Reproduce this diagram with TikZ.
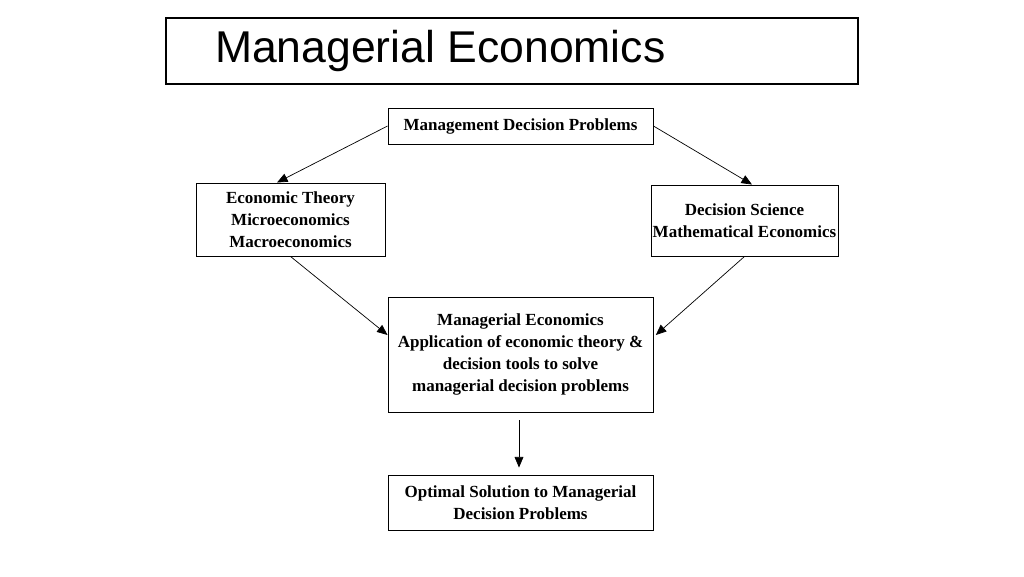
\documentclass[tikz,border=0pt]{standalone}
\usepackage{fontspec}
\setmainfont{Liberation Serif}
\newfontfamily\titlefont{Liberation Sans}
\usetikzlibrary{positioning,arrows.meta}

\tikzset{
    box/.style={draw, line width=0.8pt, align=center, inner sep=0pt,
        font=\fontsize{14.5}{18.8}\selectfont\bfseries},
    link/.style={-{Triangle[length=9pt,width=7.5pt]}, line width=0.6pt}
}

\begin{document}
\begin{tikzpicture}[x=0.03cm,y=-0.03cm]
            % Canvas
            \useasboundingbox (0,0) rectangle (1024,576);

            % Title
            \node[draw, line width=1pt, minimum width=692*0.03cm, minimum height=66*0.03cm] (title) at (512,51) {};
            \node[anchor=west, font=\titlefont\fontsize{38}{44}\selectfont] (titletext) at (211,51) {Managerial Economics};

            % Boxes
            \node[box, minimum width=265*0.03cm, minimum height=36*0.03cm] (problems) at (520.5,126) {Management Decision Problems};
            \node[box, minimum width=189*0.03cm, minimum height=73*0.03cm] (theory) at (290.5,219.5) {Economic Theory\\Microeconomics\\Macroeconomics};
            \node[box, minimum width=187*0.03cm, minimum height=71*0.03cm] (science) at (744.5,220.5) {Decision Science\\Mathematical Economics};
            \node[box, minimum width=265*0.03cm, minimum height=115*0.03cm] (managerial) at (520.5,354.5) {Managerial Economics\\Application of economic theory \&\\decision tools to solve\\managerial decision problems};
            \node[box, minimum width=265*0.03cm, minimum height=55*0.03cm] (solution) at (520.5,502.5) {Optimal Solution to Managerial\\Decision Problems};

            % Arrows
            \coordinate (leftin) at (managerial.west |- 0,335);
            \coordinate (rightin) at ([xshift=2pt]managerial.east |- 0,335);
            \draw[link] (problems.west) -- (theory.north -| 277,0);
            \draw[link] (problems.east) -- (science.north -| 752,0);
            \draw[link] (theory.south) -- (leftin);
            \draw[link] (science.south) -- (rightin);
            \draw[link] ([yshift=-8*0.03cm]managerial.south -| 519,0) -- ([yshift=7*0.03cm]solution.north -| 519,0);
\end{tikzpicture}
\end{document}
